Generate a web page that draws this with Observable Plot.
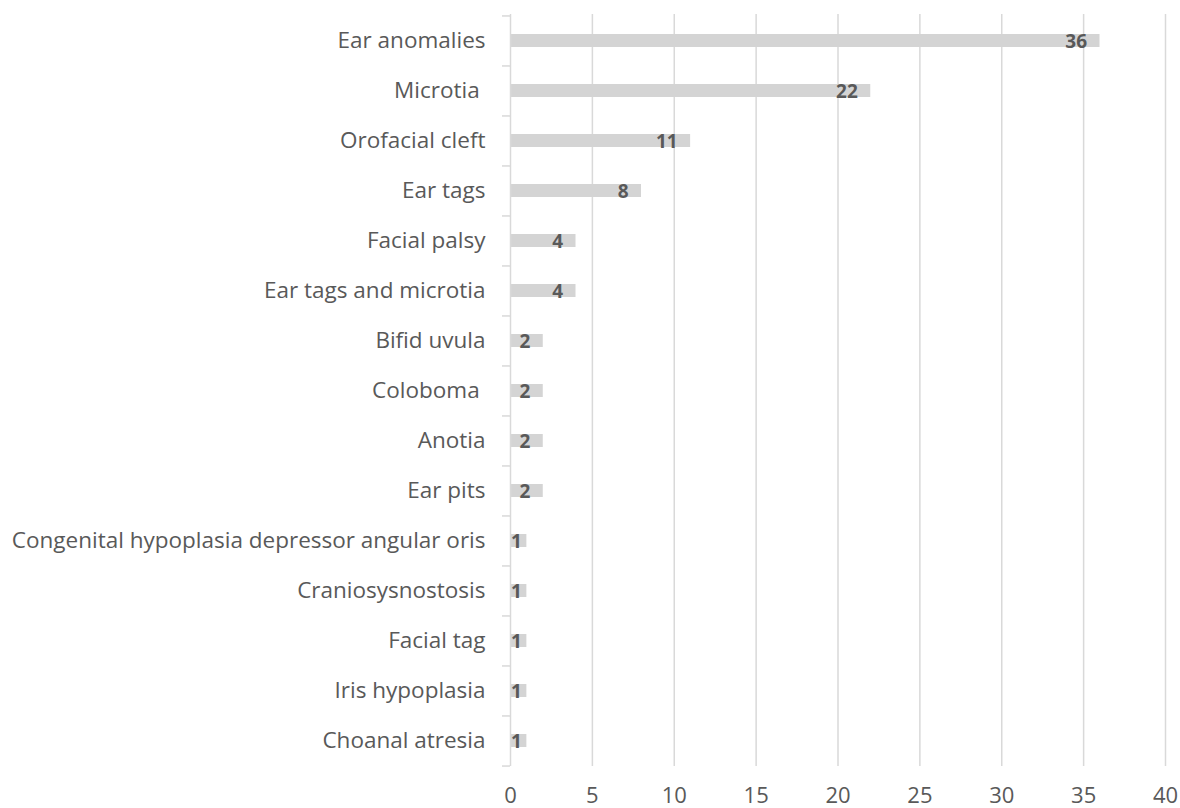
<!DOCTYPE html>
<html>
<head>
<meta charset="utf-8">
<script src="https://cdn.jsdelivr.net/npm/d3@7"></script>
<script src="https://cdn.jsdelivr.net/npm/@observablehq/plot@0.6"></script>
<style>
  html, body { margin: 0; padding: 0; background: #fff; }
  #chart { width: 1180px; height: 808px; }
</style>
</head>
<body>
<div id="chart"></div>
<script>
const categories = [
  "Ear anomalies",
  "Microtia\u00A0",
  "Orofacial cleft",
  "Ear tags",
  "Facial palsy",
  "Ear tags and microtia",
  "Bifid uvula",
  "Coloboma\u00A0",
  "Anotia",
  "Ear pits",
  "Congenital hypoplasia depressor angular oris",
  "Craniosysnostosis",
  "Facial tag",
  "Iris hypoplasia",
  "Choanal atresia"
];
const counts = [36, 22, 11, 8, 4, 4, 2, 2, 2, 2, 1, 1, 1, 1, 1];
const xTicks = [0, 5, 10, 15, 20, 25, 30, 35, 40];

const data = categories.map((c, i) => ({category: c, count: counts[i]}));

const font = "'Open Sans', sans-serif";
const gray = "#595959";
const half = 25.05;

const chart = Plot.plot({
  width: 1180,
  height: 808,
  marginLeft: 510,
  marginRight: 15,
  marginTop: 14,
  marginBottom: 42,
  style: {fontFamily: font, background: "#fff", color: gray},
  x: {domain: [0, 40], ticks: xTicks},
  y: {domain: categories, paddingInner: 0.74, paddingOuter: 0.37},
  marks: [
    Plot.gridX(xTicks.filter(t => t > 0), {stroke: "#d9d9d9", strokeOpacity: 1, strokeWidth: 1.5}),
    Plot.barX(data, {y: "category", x: "count", fill: "#d4d4d4"}),
    Plot.ruleX([0], {stroke: "#d9d9d9", strokeWidth: 1.5}),
    Plot.axisY({tickSize: 0, tickPadding: 25, fontSize: 22.5, fill: gray, label: null}),
    Plot.axisY({tickSize: 8, tickFormat: () => "", stroke: "#d9d9d9", strokeWidth: 1.5, dy: -half, label: null}),
    Plot.axisY(categories.slice(-1), {tickSize: 8, tickFormat: () => "", stroke: "#d9d9d9", strokeWidth: 1.5, dy: half, label: null}),
    Plot.axisX({tickSize: 0, tickPadding: 21, fontSize: 22, fill: gray, label: null}),
    Plot.text(data.filter(d => d.count >= 2), {y: "category", x: "count", text: d => String(d.count), textAnchor: "end", dx: -13, dy: 1, fontSize: 19, fontWeight: "bold", fill: gray}),
    Plot.text(data.filter(d => d.count < 2), {y: "category", x: "count", text: d => String(d.count), textAnchor: "end", dx: -5, dy: 1, fontSize: 19, fontWeight: "bold", fill: gray})
  ]
});
document.getElementById("chart").append(chart);
</script>
</body>
</html>
